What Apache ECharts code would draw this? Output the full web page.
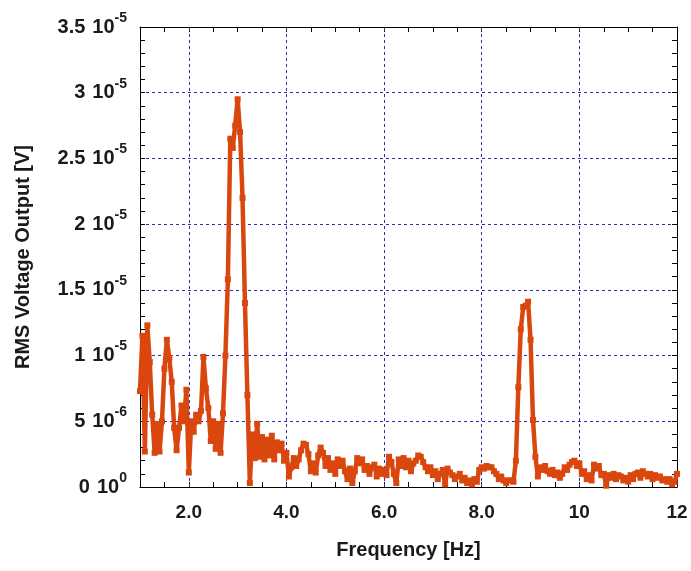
<!DOCTYPE html>
<html>
<head>
<meta charset="utf-8">
<script src="https://cdn.jsdelivr.net/npm/echarts@6/dist/echarts.min.js"></script>
<style>
html,body{margin:0;padding:0;background:#fff;}
#chart{width:691px;height:571px;}
</style>
</head>
<body>
<div id="chart"></div>
<script>
// Frequency sampling grid (Hz)
const freqStart = 1.0;
const freqStep = 0.05;

// RMS voltage output, in units of 1e-6 V, one value per frequency step (1.00 ... 12.00 Hz)
const rmsMicroV = [
  // 1.00 - 1.95
  7.3, 11.5, 2.7, 12.3, 9.5, 5.5, 2.6, 4.8, 2.7, 5.0, 9.0, 11.2, 9.8, 8.0, 4.5, 2.8, 4.5, 6.2, 5.0, 7.4,
  // 2.00 - 2.95
  1.1, 5.0, 4.2, 5.5, 5.0, 5.8, 9.9, 7.5, 6.0, 3.5, 5.0, 2.9, 4.8, 2.6, 5.6, 10.0, 15.8, 26.5, 25.8, 27.5,
  // 3.00 - 3.95
  29.5, 27.0, 22.0, 14.0, 7.0, 0.3, 4.0, 2.2, 4.8, 2.3, 3.8, 2.1, 3.6, 2.4, 3.9, 2.1, 3.4, 2.8, 3.3, 2.0,
  // 4.00 - 4.95
  2.6, 0.8, 1.5, 2.2, 1.6, 2.1, 2.8, 3.3, 3.2, 2.5, 1.2, 1.8, 1.1, 2.4, 3.0, 2.6, 1.6, 2.2, 1.3, 1.8,
  // 5.00 - 5.95
  1.0, 2.1, 1.6, 2.0, 1.2, 0.6, 1.4, 0.3, 1.2, 2.2, 1.8, 2.1, 1.3, 1.6, 1.0, 1.5, 1.7, 0.8, 1.4, 1.0,
  // 6.00 - 6.95
  1.3, 0.9, 2.3, 1.9, 1.0, 0.3, 2.1, 1.6, 2.2, 1.5, 2.0, 1.2, 1.8, 2.0, 2.4, 2.3, 1.9, 1.5, 1.2, 1.5,
  // 7.00 - 7.95
  0.9, 1.2, 0.6, 1.0, 1.3, 0.2, 1.4, 1.1, 0.9, 0.6, 0.8, 1.0, 0.5, 0.7, 0.3, 0.5, 0.2, 0.6, 0.4, 1.3,
  // 8.00 - 8.95
  1.5, 1.4, 1.6, 1.5, 1.5, 1.2, 1.0, 0.6, 0.8, 0.5, 0.3, 0.5, 0.5, 0.4, 2.0, 7.6, 12.0, 13.7, 13.8, 14.1,
  // 9.00 - 9.95
  11.2, 5.1, 2.3, 0.8, 1.5, 1.3, 1.6, 1.2, 1.0, 1.3, 0.9, 1.1, 0.7, 1.0, 1.5, 1.3, 1.7, 1.9, 2.0, 1.6,
  // 10.00 - 10.95
  1.8, 1.0, 1.2, 0.6, 0.9, 0.5, 1.7, 1.4, 1.6, 0.9, 1.0, 0.1, 0.9, 0.7, 1.0, 0.6, 0.9, 0.8, 0.5, 0.7,
  // 11.00 - 12.00
  0.4, 0.9, 0.6, 1.0, 1.1, 0.7, 1.2, 1.0, 0.8, 1.0, 0.6, 0.9, 0.7, 0.8, 0.5, 0.6, 0.4, 0.6, 0.2, 0.4, 1.0
];

// X tick labels
const xLabelValues = [2, 4, 6, 8, 10, 12];
const xLabelTexts = ['2.0', '4.0', '6.0', '8.0', '10', '12'];
// Vertical grid lines (Hz)
const xGridValues = [2, 4, 6, 8, 10];

// Y tick labels (value in 1e-6 V units -> mantissa, exponent)
const yTickValues = [0, 5, 10, 15, 20, 25, 30, 35];
const yTickMantissa = ['0', '5', '1', '1.5', '2', '2.5', '3', '3.5'];
const yTickExponent = ['0', '-6', '-5', '-5', '-5', '-5', '-5', '-5'];

const seriesData = rmsMicroV.map((v, i) => [+(freqStart + i * freqStep).toFixed(2), v]);

const FONT = 'Liberation Sans, Arial, sans-serif';
const TXT = '#1a1a1a';
const LINE_COLOR = '#d9470f';
const GRID_COLOR = '#2e2ea8';

function xLabel(v) {
  const idx = xLabelValues.findIndex(x => Math.abs(x - v) < 1e-6);
  return idx >= 0 ? xLabelTexts[idx] : '';
}
function yLabel(v) {
  const idx = yTickValues.findIndex(y => Math.abs(y - v) < 1e-6);
  if (idx < 0) return '';
  return '{a|' + yTickMantissa[idx] + '}{m|10}{s|' + yTickExponent[idx] + '}';
}

const chart = echarts.init(document.getElementById('chart'), null, {renderer: 'canvas'});
const tickStyle = {color: '#000', width: 1};
const option = {
  animation: false,
  backgroundColor: '#ffffff',
  grid: {left: 140, right: 14, top: 27, bottom: 84, containLabel: false},
  xAxis: [
    {
      type: 'value', min: 1, max: 12, interval: 0.5, position: 'bottom',
      axisLine: {show: true, onZero: false, lineStyle: {color: '#000', width: 1}},
      axisTick: {show: true, inside: true, length: 5, lineStyle: tickStyle},
      splitLine: {show: false},
      axisLabel: {show: true, margin: 16, formatter: xLabel, fontFamily: FONT, fontWeight: 'bold', fontSize: 19, color: TXT},
      name: 'Frequency [Hz]', nameLocation: 'middle', nameGap: 53,
      nameTextStyle: {fontFamily: FONT, fontWeight: 'bold', fontSize: 20, color: TXT}
    },
    {
      type: 'value', min: 1, max: 12, interval: 0.5, position: 'top',
      axisLine: {show: true, onZero: false, lineStyle: {color: '#000', width: 1}},
      axisTick: {show: true, inside: true, length: 5, lineStyle: tickStyle},
      splitLine: {show: false},
      axisLabel: {show: false}
    }
  ],
  yAxis: [
    {
      type: 'value', min: 0, max: 35, interval: 5, position: 'left',
      axisLine: {show: true, onZero: false, lineStyle: {color: '#000', width: 1}},
      axisTick: {show: true, inside: true, length: 5, lineStyle: tickStyle},
      minorTick: {show: true, splitNumber: 5, length: 5, lineStyle: tickStyle},
      splitLine: {show: true, lineStyle: {color: GRID_COLOR, type: [3, 3], width: 1}},
      axisLabel: {
        show: true, margin: 13, formatter: yLabel, padding: [0, 0, 6, 0],
        rich: {
          a: {fontFamily: FONT, fontWeight: 'bold', fontSize: 20, color: TXT, lineHeight: 26, verticalAlign: 'bottom', padding: [0, 7, 0, 0]},
          m: {fontFamily: FONT, fontWeight: 'bold', fontSize: 20, color: TXT, lineHeight: 26, verticalAlign: 'bottom'},
          s: {fontFamily: FONT, fontWeight: 'bold', fontSize: 14, color: TXT, lineHeight: 14, verticalAlign: 'top'}
        }
      },
      name: 'RMS Voltage Output [V]', nameLocation: 'middle', nameGap: 107,
      nameTextStyle: {fontFamily: FONT, fontWeight: 'bold', fontSize: 20, color: TXT}
    },
    {
      type: 'value', min: 0, max: 35, interval: 5, position: 'right',
      axisLine: {show: true, onZero: false, lineStyle: {color: '#000', width: 1}},
      axisTick: {show: true, inside: true, length: 5, lineStyle: tickStyle},
      minorTick: {show: true, splitNumber: 5, length: 5, lineStyle: tickStyle},
      splitLine: {show: false},
      axisLabel: {show: false}
    }
  ],
  series: [
    {
      type: 'line', data: [], xAxisIndex: 0, yAxisIndex: 0, silent: true, z: 1,
      markLine: {
        silent: true, z: 1, symbol: ['none', 'none'], animation: false,
        label: {show: false},
        lineStyle: {color: GRID_COLOR, type: [3, 3], width: 1},
        data: xGridValues.map(v => ({xAxis: v}))
      }
    },
    {
      type: 'line', data: seriesData, xAxisIndex: 0, yAxisIndex: 0, z: 3,
      symbol: 'rect', symbolSize: 6, showSymbol: true,
      lineStyle: {color: LINE_COLOR, width: 4.5},
      itemStyle: {color: LINE_COLOR}
    }
  ]
};
chart.setOption(option);
</script>
</body>
</html>
